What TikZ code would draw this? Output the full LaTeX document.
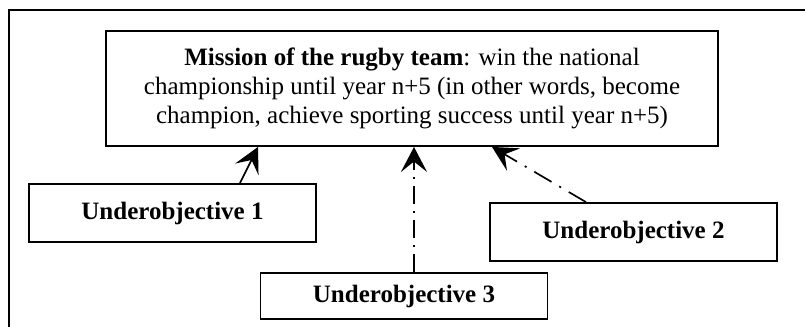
\documentclass[tikz,border=0pt]{standalone}
\usepackage{fontspec}
\setmainfont{Liberation Serif}
\usetikzlibrary{arrows.meta, calc}
\tikzset{
  goalbox/.style={draw, line width=0.9pt, align=center, font=\fontsize{12pt}{14pt}\selectfont, inner sep=0pt},
  subbox/.style={draw, line width=0.9pt, minimum width=137.8pt, minimum height=27.8pt, inner sep=0pt, font=\fontsize{12pt}{14pt}\selectfont\bfseries},
  tip/.style={-{Stealth[length=12pt, width=12.5pt, inset=5pt]}, line width=0.8pt},
}
\begin{document}
\begin{tikzpicture}[x=0.48pt, y=-0.48pt]
  \useasboundingbox (0,0) rectangle (805,327);
  % outer frame
  \draw[line width=1.1pt] (805,10) -- (9,10) -- (9,327);

  % Mission box
  \node[goalbox, minimum width=293.8pt, minimum height=55.2pt] (mission) at (412, 88.5) {\textbf{Mission of the rugby team}: win the national\\championship until year n+5 (in other words, become\\champion, achieve sporting success until year n+5)};

  % Underobjectives
  \node[subbox] (uo1) at (172.5, 213) {Underobjective 1};
  \node[subbox] (uo2) at (633.5, 232) {Underobjective 2};
  \node[subbox, minimum height=22.1pt] (uo3) at (404, 296) {Underobjective 3};

  % Arrows
  \draw[tip] ($(uo1.north)+(67.5,0)$) -- ($(mission.south)+(-154,0)$);
  \draw[tip, dash pattern=on 9.6pt off 4.3pt on 1pt off 4.3pt] ($(uo2.north)+(-47.5,0)$) -- ($(mission.south)+(80,0)$);
  \draw[tip, dash pattern=on 8.6pt off 3.4pt on 1pt off 3.4pt] ($(uo3.north)+(10,0)$) -- ($(mission.south)+(2,0)$);
\end{tikzpicture}
\end{document}
